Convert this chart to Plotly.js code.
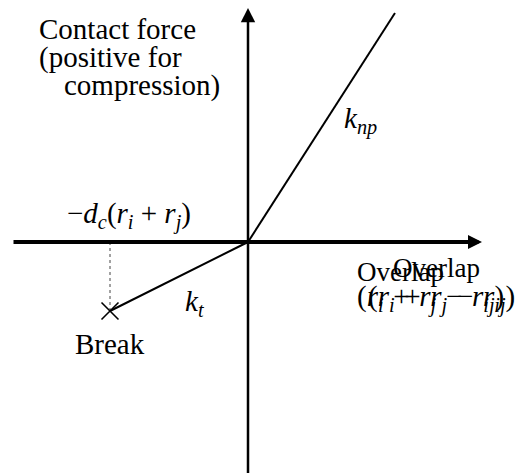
<!DOCTYPE html>
<html><head><meta charset="utf-8">
<script src="https://cdn.plot.ly/plotly-3.0.1.min.js"></script>
<style>html,body{margin:0;padding:0;background:#fff}</style>
</head><body><div id="chart" style="width:522px;height:473px"></div>
<script>
// Piecewise-linear contact law (overlap normalised by d_c(r_i + r_j)):
// tension branch with stiffness k_t down to the break point,
// compression branch with the steeper stiffness k_np.
const tensionOverlap = [-1.0, 0];
const tensionForce = [-0.5, 0];
const compressionOverlap = [0, 1.065];
const compressionForce = [0, 1.66];
const breakOverlap = [-1.0];
const breakForce = [-0.5];

const W = 522, H = 473;
const origin = {x: 248, y: 242};
const unit = 138;
const dx = p => (p - origin.x) / unit;
const dy = p => (origin.y - p) / unit;

const serif = '"Liberation Serif", "DejaVu Serif", serif';
const FS = 29;

const traces = [
  {x: compressionOverlap, y: compressionForce, mode: 'lines',
   line: {color: '#000', width: 2}, hoverinfo: 'skip'},
  {x: tensionOverlap, y: tensionForce, mode: 'lines',
   line: {color: '#000', width: 2}, hoverinfo: 'skip'},
  {x: [breakOverlap[0], breakOverlap[0]], y: [0, breakForce[0]], mode: 'lines',
   line: {color: '#444', width: 1, dash: 'dot'}, hoverinfo: 'skip'},
  {x: breakOverlap, y: breakForce, mode: 'markers',
   marker: {symbol: 'x-thin', size: 17, line: {color: '#000', width: 1.6}},
   hoverinfo: 'skip'}
];

function label(text, px, py, anchor, size) {
  return {text: text, x: dx(px), y: dy(py), xref: 'x', yref: 'y',
    showarrow: false, xanchor: anchor || 'left', yanchor: 'middle',
    font: {family: serif, size: size || FS, color: '#000'}};
}

const sp = '\u2004';
const formula = '(<i>r</i><sub><i>i</i></sub>' + sp + '+' + sp + '<i>r</i><sub><i>j</i></sub>' +
  sp + '\u2212' + sp + '<i>r</i><sub><i>ij</i></sub>)';

const annotations = [
  // horizontal axis with arrow
  {x: dx(482), y: 0, ax: dx(12), ay: 0, xref: 'x', yref: 'y', axref: 'x', ayref: 'y',
   text: '', showarrow: true, arrowhead: 2, arrowsize: 0.7, arrowwidth: 4, arrowcolor: '#000'},
  // vertical axis with arrow
  {x: 0, y: dy(8), ax: 0, ay: dy(H + 5), xref: 'x', yref: 'y', axref: 'x', ayref: 'y',
   text: '', showarrow: true, arrowhead: 2, arrowsize: 1.15, arrowwidth: 2.5, arrowcolor: '#000'},
  label('Contact force', 37, 29),
  label('(positive for', 37, 57),
  label('compression)', 62, 85),
  label('\u2212<i>d</i><sub><i>c</i></sub>(<i>r</i><sub><i>i</i></sub> + <i>r</i><sub><i>j</i></sub>)', 129, 215, 'center'),
  label('<i>k</i><sub><i>t</i></sub>', 195, 303, 'center'),
  label('<i>k</i><sub><i>np</i></sub>', 360, 120, 'center'),
  label('Break', 110, 344, 'center'),
  label('Overlap', 355, 272, 'left', 27),
  label('Overlap', 391, 268, 'left', 27),
  label(formula, 355, 298, 'left', 29),
  label(formula, 366, 298, 'left', 29)
];

const layout = {
  width: W, height: H,
  margin: {l: 0, r: 0, t: 0, b: 0},
  paper_bgcolor: '#fff', plot_bgcolor: '#fff',
  showlegend: false,
  xaxis: {range: [dx(0), dx(W)], visible: false, fixedrange: true},
  yaxis: {range: [dy(H), dy(0)], visible: false, fixedrange: true},
  annotations: annotations
};

Plotly.newPlot('chart', traces, layout, {staticPlot: true});
</script>
</body></html>
